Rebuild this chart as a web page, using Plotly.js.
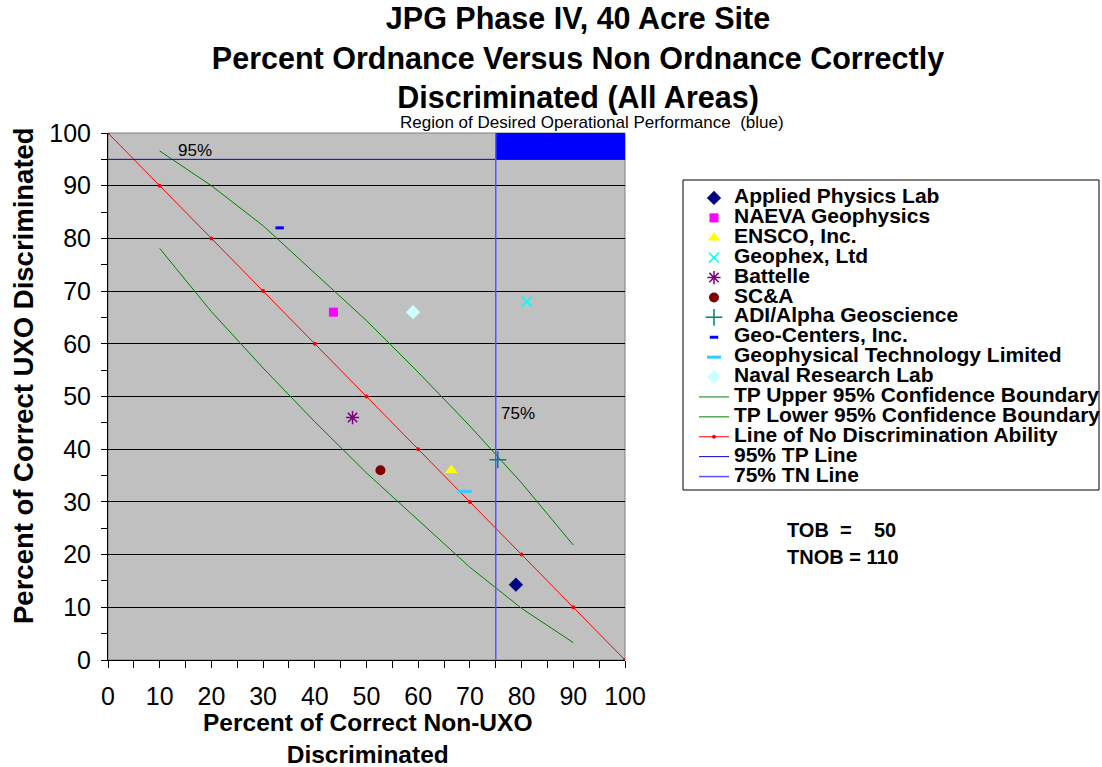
<!DOCTYPE html>
<html><head><meta charset="utf-8">
<script src="https://cdn.plot.ly/plotly-3.0.1.min.js"></script>
<style>html,body{margin:0;padding:0;background:#fff}</style>
</head><body><div id="chart" style="width:1102px;height:767px"></div>
<script>
// ---- data ----
const vendorNames = ["Applied Physics Lab","NAEVA Geophysics","ENSCO, Inc.","Geophex, Ltd","Battelle","SC&A","ADI/Alpha Geoscience","Geo-Centers, Inc.","Geophysical Technology Limited","Naval Research Lab"];
const vendorX = [78.9, 43.6, 66.4, 81.0, 47.3, 52.7, 75.4, 33.2, 69.0, 59.0];
const vendorY = [14.3, 66.0, 36.0, 68.0, 46.0, 36.0, 38.0, 82.0, 32.0, 66.0];
const boundX = [10, 20, 30, 40, 50, 60, 70, 80, 90];
const upperY = [96.6, 90.0, 82.4, 73.4, 64.4, 54.6, 44.4, 33.6, 21.8];
const lowerY = [78.1, 66.1, 55.4, 45.2, 35.5, 26.5, 17.6, 9.8, 3.3];
const noDiscX = [0, 10, 20, 30, 40, 50, 60, 70, 80, 90, 100];
const noDiscY = [100, 90, 80, 70, 60, 50, 40, 30, 20, 10, 0];
const tpLineX = [0, 100], tpLineY = [95, 95];
const tnLineX = [75, 75], tnLineY = [0, 100];
const regionX = [75, 100], regionY = [95, 100];
const xTicks = [0,10,20,30,40,50,60,70,80,90,100];
const yTicks = [0,10,20,30,40,50,60,70,80,90,100];

// ---- styles ----
const W = 1102, H = 767;
const M = {l: 108, r: 477, t: 133, b: 107, autoexpand: false};
const pw = W - M.l - M.r, ph = H - M.t - M.b;
const px = p => (p - M.l) / pw;          // pixel -> paper x
const py = p => (H - M.b - p) / ph;      // pixel -> paper y
const FONT = "Liberation Sans, Arial, sans-serif";
const symStyles = [
  {symbol:"diamond", color:"#000080", size:11},
  {symbol:"square", color:"#ff00ff", size:9},
  {symbol:"triangle-up", color:"#ffff00", size:11},
  {symbol:"x-thin-open", color:"#00ffff", size:10, lw:1.5},
  {symbol:"asterisk-open", color:"#800080", size:11, lw:1.5},
  {symbol:"circle", color:"#800000", size:10},
  {symbol:"cross-thin-open", color:"#008080", size:12, lw:1.5},
  {symbol:"line-ew-open", color:"#0000ff", size:6, lw:3},
  {symbol:"line-ew-open", color:"#33ccff", size:10, lw:3},
  {symbol:"diamond", color:"#ccffff", size:11}
];
const lg = s => '<span style="font-size:21px">' + s + '</span>';

const traces = [];
traces.push({x: boundX, y: upperY, mode:"lines", name: lg("TP Upper 95% Confidence Boundary"), line:{color:"#008000", width:1}, legendrank: 1011});
traces.push({x: boundX, y: lowerY, mode:"lines", name: lg("TP Lower 95% Confidence Boundary"), line:{color:"#008000", width:1}, legendrank: 1012});
traces.push({x: noDiscX, y: noDiscY, mode:"lines+markers", name: lg("Line of No Discrimination Ability"), line:{color:"#ff0000", width:1}, marker:{color:"#ff0000", size:4}, legendrank: 1013});
traces.push({x: tpLineX, y: tpLineY, mode:"lines", name: lg("95% TP Line"), line:{color:"#0000cc", width:1}, legendrank: 1014});
traces.push({x: tnLineX, y: tnLineY, mode:"lines", name: lg("75% TN Line"), line:{color:"#5555ff", width:1.5}, legendrank: 1015});
vendorNames.forEach((n, i) => {
  const s = symStyles[i];
  const mk = {symbol: s.symbol, color: s.color, size: s.size};
  mk.line = s.lw ? {color: s.color, width: s.lw} : {width: 0};
  traces.push({x:[vendorX[i]], y:[vendorY[i]], mode:"markers", name: lg(n), marker: mk, legendrank: 1000 + i, cliponaxis:false});
});

const layout = {
  width: W, height: H,
  margin: M,
  paper_bgcolor: "#ffffff",
  plot_bgcolor: "#c0c0c0",
  font: {family: FONT, color: "#000"},
  title: {
    text: "<b>JPG Phase IV, 40 Acre Site<br>Percent Ordnance Versus Non Ordnance Correctly<br>Discriminated (All Areas)</b>",
    font: {family: FONT, size: 30.5, color: "#000"},
    x: 578 / W, xanchor: "center", xref: "container",
    y: 1 - 29 / H, yanchor: "top", yref: "container"
  },
  xaxis: {
    range: [0, 100], tickvals: xTicks, ticktext: xTicks.map(String),
    showgrid: false, zeroline: false,
    showline: true, linecolor: "#000", linewidth: 1,
    ticks: "outside", ticklen: 7, tickcolor: "#000", tickwidth: 1,
    minor: {dtick: 5, tick0: 0, ticks: "outside", ticklen: 7, tickcolor: "#000", showgrid: false},
    tickfont: {family: FONT, size: 25}, ticklabelstandoff: 7,
    title: {text: ""},
    automargin: false, fixedrange: true
  },
  yaxis: {
    range: [0, 100], tickvals: yTicks, ticktext: yTicks.map(String),
    showgrid: true, gridcolor: "#000", gridwidth: 1, zeroline: false,
    showline: true, linecolor: "#000", linewidth: 1,
    ticks: "outside", ticklen: 6, tickcolor: "#000", tickwidth: 1,
    minor: {dtick: 5, tick0: 0, ticks: "outside", ticklen: 6, tickcolor: "#000", showgrid: false},
    tickfont: {family: FONT, size: 25}, ticklabelstandoff: 5,
    title: {text: ""},
    automargin: false, fixedrange: true
  },
  showlegend: true,
  legend: {
    x: px(694), xanchor: "left", y: py(183), yanchor: "top",
    bgcolor: "rgba(0,0,0,0)", borderwidth: 0,
    font: {family: FONT, size: 13, color: "#000", weight: "bold"},
    traceorder: "normal", itemclick: false
  },
  shapes: [
    {type: "rect", xref: "paper", yref: "paper", x0: 0, x1: 1, y0: 0, y1: 1, line: {color: "#808080", width: 1}, layer: "below"},
    {type: "rect", xref: "x", yref: "y", x0: regionX[0], x1: regionX[1], y0: regionY[0], y1: regionY[1], fillcolor: "#0000ff", line: {width: 0}, layer: "below"},
    {type: "rect", xref: "paper", yref: "paper", x0: px(683), x1: px(1099), y0: py(490), y1: py(180), line: {color: "#000", width: 1}, fillcolor: "rgba(0,0,0,0)"}
  ],
  annotations: [
    {xref: "paper", yref: "paper", x: px(23), y: py(376), xanchor: "center", yanchor: "middle", textangle: -90,
     text: "<b>Percent of Correct UXO Discriminated</b>", showarrow: false, font: {family: FONT, size: 27.5}},
    {xref: "paper", yref: "paper", x: px(367), y: py(738), xanchor: "center", yanchor: "middle",
     text: "<b>Percent of Correct Non-UXO<br>Discriminated</b>", showarrow: false, font: {family: FONT, size: 24.5}},
    {xref: "x", yref: "y", x: 16.8, y: 96.6, xanchor: "center", yanchor: "middle", text: "95%", showarrow: false, font: {family: FONT, size: 17}},
    {xref: "x", yref: "y", x: 79.3, y: 46.7, xanchor: "center", yanchor: "middle", text: "75%", showarrow: false, font: {family: FONT, size: 17}},
    {xref: "paper", yref: "paper", x: px(592), y: py(123), xanchor: "center", yanchor: "middle", text: "Region of Desired Operational Performance  (blue)", showarrow: false, font: {family: FONT, size: 17}},
    {xref: "paper", yref: "paper", x: px(785), y: py(530), xanchor: "left", yanchor: "middle", text: "<b>TOB\u00a0\u00a0=\u00a0\u00a0\u00a0\u00a050</b>", showarrow: false, font: {family: FONT, size: 20}},
    {xref: "paper", yref: "paper", x: px(785), y: py(557), xanchor: "left", yanchor: "middle", text: "<b>TNOB = 110</b>", showarrow: false, font: {family: FONT, size: 20}}
  ]
};

Plotly.newPlot("chart", traces, layout, {staticPlot: true, displayModeBar: false});
</script>
</body></html>
